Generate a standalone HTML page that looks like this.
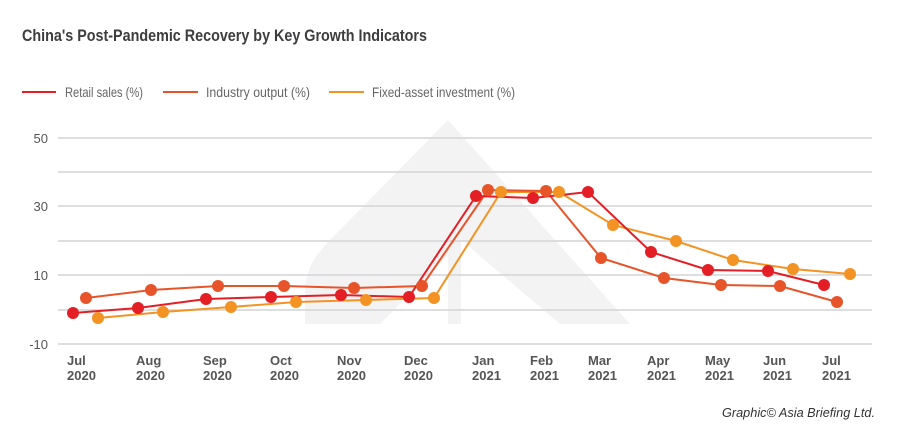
<!DOCTYPE html>
<html><head><meta charset="utf-8"><style>
body{margin:0;background:#fff;}
svg{display:block;font-family:"Liberation Sans",sans-serif;}
</style></head><body>
<svg width="900" height="446" viewBox="0 0 900 446">
<rect width="900" height="446" fill="#fff"/>
<!-- watermark -->
<path d="M305 324 L305 290 Q305 265 330 240 L448 120 L630 324 Z" fill="#f3f3f4"/>
<path d="M380 324 L448 255 L448 324 Z" fill="#fff"/>
<path d="M461 324 L461 240 L560 324 Z" fill="#fff"/>
<text x="22" y="41" font-size="17" font-weight="bold" fill="#3d3d3f" textLength="405" lengthAdjust="spacingAndGlyphs">China's Post-Pandemic Recovery by Key Growth Indicators</text>
<g font-size="14" fill="#666">
<line x1="22" y1="92" x2="56" y2="92" stroke="#e31e24" stroke-width="2"/>
<text x="65" y="97" textLength="78" lengthAdjust="spacingAndGlyphs">Retail sales (%)</text>
<line x1="163" y1="92" x2="198" y2="92" stroke="#e8542a" stroke-width="2"/>
<text x="206" y="97" textLength="104" lengthAdjust="spacingAndGlyphs">Industry output (%)</text>
<line x1="329" y1="92" x2="364" y2="92" stroke="#f39324" stroke-width="2"/>
<text x="372" y="97" textLength="143" lengthAdjust="spacingAndGlyphs">Fixed-asset investment (%)</text>
</g>
<g stroke="#d4d4d6" stroke-width="1.5">
<line x1="58" y1="138" x2="872" y2="138"/><line x1="58" y1="172" x2="872" y2="172"/>
<line x1="58" y1="206" x2="872" y2="206"/><line x1="58" y1="241" x2="872" y2="241"/>
<line x1="58" y1="275" x2="872" y2="275"/><line x1="58" y1="310" x2="872" y2="310"/>
<line x1="58" y1="344" x2="872" y2="344"/>
</g>
<g font-size="13" fill="#555" text-anchor="end">
<text x="48" y="143">50</text><text x="48" y="211">30</text><text x="48" y="280">10</text><text x="48" y="349">-10</text>
</g>
<g font-size="13" font-weight="bold" fill="#555">
<text x="67" y="365">Jul</text><text x="67" y="380">2020</text>
<text x="136" y="365">Aug</text><text x="136" y="380">2020</text>
<text x="203" y="365">Sep</text><text x="203" y="380">2020</text>
<text x="270" y="365">Oct</text><text x="270" y="380">2020</text>
<text x="337" y="365">Nov</text><text x="337" y="380">2020</text>
<text x="404" y="365">Dec</text><text x="404" y="380">2020</text>
<text x="472" y="365">Jan</text><text x="472" y="380">2021</text>
<text x="530" y="365">Feb</text><text x="530" y="380">2021</text>
<text x="588" y="365">Mar</text><text x="588" y="380">2021</text>
<text x="647" y="365">Apr</text><text x="647" y="380">2021</text>
<text x="705" y="365">May</text><text x="705" y="380">2021</text>
<text x="763" y="365">Jun</text><text x="763" y="380">2021</text>
<text x="822" y="365">Jul</text><text x="822" y="380">2021</text>
</g>
<g fill="none" stroke-width="2">
<polyline stroke="#f39324" points="98,318 163,312 231,307 296,302 366,300 434,298 501,192 559,192 613,225 676,241 733,260 793,269 850,274"/>
<polyline stroke="#e8542a" points="86,298 151,290 218,286 284,286 354,288 422,286 488,190 546,191 601,258 664,278 721,285 780,286 837,302"/>
<polyline stroke="#e31e24" points="73,313 138,308 206,299 271,297 341,295 409,297 476,196 533,198 588,192 651,252 708,270 768,271 824,285"/>
</g>
<g fill="#f39324">
<circle cx="98" cy="318" r="6"/><circle cx="163" cy="312" r="6"/><circle cx="231" cy="307" r="6"/><circle cx="296" cy="302" r="6"/><circle cx="366" cy="300" r="6"/><circle cx="434" cy="298" r="6"/><circle cx="501" cy="192" r="6"/><circle cx="559" cy="192" r="6"/><circle cx="613" cy="225" r="6"/><circle cx="676" cy="241" r="6"/><circle cx="733" cy="260" r="6"/><circle cx="793" cy="269" r="6"/><circle cx="850" cy="274" r="6"/>
</g>
<g fill="#e8542a">
<circle cx="86" cy="298" r="6"/><circle cx="151" cy="290" r="6"/><circle cx="218" cy="286" r="6"/><circle cx="284" cy="286" r="6"/><circle cx="354" cy="288" r="6"/><circle cx="422" cy="286" r="6"/><circle cx="488" cy="190" r="6"/><circle cx="546" cy="191" r="6"/><circle cx="601" cy="258" r="6"/><circle cx="664" cy="278" r="6"/><circle cx="721" cy="285" r="6"/><circle cx="780" cy="286" r="6"/><circle cx="837" cy="302" r="6"/>
</g>
<g fill="#e31e24">
<circle cx="73" cy="313" r="6"/><circle cx="138" cy="308" r="6"/><circle cx="206" cy="299" r="6"/><circle cx="271" cy="297" r="6"/><circle cx="341" cy="295" r="6"/><circle cx="409" cy="297" r="6"/><circle cx="476" cy="196" r="6"/><circle cx="533" cy="198" r="6"/><circle cx="588" cy="192" r="6"/><circle cx="651" cy="252" r="6"/><circle cx="708" cy="270" r="6"/><circle cx="768" cy="271" r="6"/><circle cx="824" cy="285" r="6"/>
</g>
<text x="875" y="417" font-size="13" font-style="italic" fill="#333" text-anchor="end" textLength="153" lengthAdjust="spacingAndGlyphs">Graphic© Asia Briefing Ltd.</text>
</svg>
</body></html>
